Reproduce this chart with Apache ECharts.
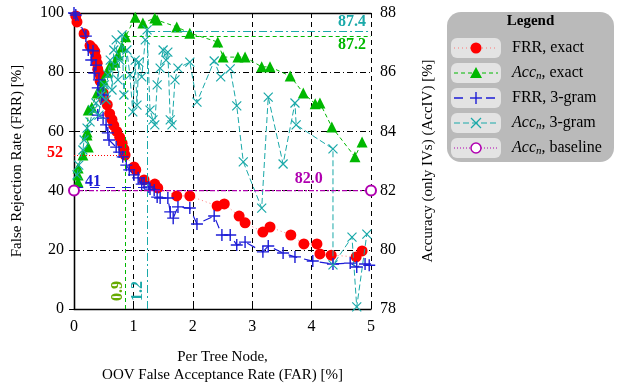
<!DOCTYPE html>
<html><head><meta charset="utf-8">
<script src="https://cdn.jsdelivr.net/npm/echarts@6/dist/echarts.min.js"></script>
<style>html,body{margin:0;padding:0;background:#fff}#c{width:619px;height:383px}</style>
</head><body><div id="c"></div><script>
// ---- data ----
const xTicks = [0, 1, 2, 3, 4, 5];
const leftTicks = [0, 20, 40, 60, 80, 100];
const rightTicks = [78, 80, 82, 84, 86, 88];

const frrExactX = [0.03,0.05,0.17,0.27,0.32,0.35,0.37,0.39,0.40,0.44,0.44,0.49,0.50,0.56,0.60,0.64,0.67,0.72,0.77,0.81,0.84,0.86,1.01,1.04,1.18,1.36,1.41,1.73,1.95,2.41,2.53,2.78,2.88,3.18,3.30,3.65,3.87,4.09,4.14,4.33,4.75,4.85];
const frrExactY = [99,97,93,89,88,87,85,83,81,79,77,73,71,69,66,64,62,60,58,56,54,52,48,47,43.6,42.2,40.9,38.2,38.2,34.8,35.5,31.4,29.1,26,27.7,25,22,22,18.6,18.2,17.6,19.6];

const accExactX = [0.07,0.07,0.07,0.15,0.24,0.22,0.22,0.24,0.30,0.39,0.47,0.49,0.56,0.61,0.69,0.74,0.81,0.87,1.03,1.16,1.36,1.40,1.73,1.95,2.42,2.51,2.76,2.88,3.16,3.30,3.64,3.86,4.06,4.14,4.34,4.73,4.85];
const accExactY = [82.29,82.53,82.76,83.2,83.47,83.88,83.98,84.72,84.82,85.3,85.5,85.74,86.0,86.24,86.34,86.58,86.85,87.2,87.86,87.66,87.83,87.76,87.53,87.32,87.02,86.51,86.51,86.51,86.18,86.18,85.87,85.3,84.93,84.96,84.15,83.14,83.64];

const frr3gX = [0.0,0.03,0.20,0.24,0.32,0.29,0.37,0.34,0.42,0.40,0.49,0.40,0.49,0.54,0.57,0.59,0.71,0.76,0.82,0.88,0.93,1.01,1.08,1.14,1.18,1.26,1.28,1.35,1.40,1.45,1.58,1.62,1.67,1.75,1.95,2.07,2.36,2.49,2.63,2.74,2.88,3.18,3.27,3.52,3.72,4.02,4.36,4.65,4.76,4.9,4.97];
const frr3gY = [100,99.3,92.2,87.5,87.2,84.1,82.4,79.7,77.4,74.7,72.3,65.5,64.5,62.2,59.5,57.1,54.7,53,51.4,48.6,47,45.3,44.3,42.2,42.6,41.2,40.5,40.2,37.8,37.5,37.5,32.8,30.7,34.5,34.1,28.7,31.4,25,25,21.6,22.6,19.3,21.3,18.9,17.6,16.2,15.2,15.5,14.2,15.2,14.8];

const acc3gX = [0.05,0.08,0.15,0.17,0.22,0.27,0.32,0.37,0.42,0.45,0.51,0.54,0.57,0.61,0.64,0.67,0.71,0.74,0.77,0.81,0.84,0.89,0.94,0.99,1.03,1.06,1.09,1.14,1.20,1.23,1.28,1.33,1.36,1.40,1.45,1.50,1.55,1.58,1.62,1.65,1.70,1.75,1.95,2.07,2.36,2.47,2.63,2.74,2.85,3.16,3.27,3.52,3.72,3.74,4.36,4.36,4.68,4.76,4.93];
const acc3gY = [82.53,82.86,83.37,83.71,84.11,84.32,84.72,84.96,84.55,85.23,85.57,85.06,85.91,86.41,85.40,86.75,87.09,85.74,86.41,87.26,85.23,86.75,85.91,84.66,86.41,84.89,86.34,85.84,87.09,87.43,84.72,84.39,84.22,85.57,86.14,86.75,86.41,86.68,84.39,84.22,85.74,86.14,86.34,84.99,86.38,85.84,86.11,84.86,82.97,81.41,85.16,82.90,84.96,84.22,83.41,79.49,80.43,78.07,80.53];

const baselineX = [0, 5];
const baselineY = [82.0, 82.0];

// threshold annotations
const frrExactAt = [0.87, 52];   // FAR, FRR
const frr3gAt = [1.23, 41];
const accExactBest = [0.87, 87.2];
const acc3gBest = [1.23, 87.4];
const baselineVal = 82.0;

// ---- styling ----
const FONT = 'Liberation Serif';
const RED = '#ff0000', GREEN = '#00b800', BLUE = '#1c1cd6', CYAN = '#1aa9a9', PURPLE = '#b000b0';
const zip = (a, b) => a.map((v, i) => [v, b[i]]);

const chart = echarts.init(document.getElementById('c'), null, {renderer: 'canvas'});

const gridCfg = {left: 74, right: 248, top: 13, bottom: 74, containLabel: false, outerBoundsMode: 'none'};

const option = {
  animation: false,
  backgroundColor: '#fff',
  textStyle: {fontFamily: FONT},
  grid: gridCfg,
  xAxis: [{
    type: 'value', min: 0, max: 5, interval: 1,
    name: 'Per Tree Node,\nOOV False Acceptance Rate (FAR) [%]',
    nameLocation: 'middle', nameGap: 39,
    nameTextStyle: {fontFamily: FONT, fontSize: 15, color: '#000', lineHeight: 18},
    axisLine: {show: true, lineStyle: {color: '#000', width: 1.3}},
    axisTick: {show: true, inside: true, length: 5, lineStyle: {color: '#000'}},
    axisLabel: {fontFamily: FONT, fontSize: 16, color: '#000', margin: 10},
    splitLine: {show: true, lineStyle: {color: '#000', type: [5, 4], width: 1}}
  }, {
    type: 'value', min: 0, max: 5, interval: 1, position: 'top',
    axisLine: {show: true, onZero: false, lineStyle: {color: '#000', width: 1.3}},
    axisTick: {show: false}, axisLabel: {show: false}, splitLine: {show: false}
  }],
  yAxis: [{
    type: 'value', min: 0, max: 100, interval: 20,
    name: 'False Rejection Rate (FRR) [%]', nameLocation: 'middle', nameGap: 49,
    nameTextStyle: {fontFamily: FONT, fontSize: 15, color: '#000'},
    axisLine: {show: true, lineStyle: {color: '#000', width: 1.3}},
    axisTick: {show: true, inside: true, length: 5, lineStyle: {color: '#000'}},
    axisLabel: {fontFamily: FONT, fontSize: 16, color: '#000', margin: 10},
    splitLine: {show: true, lineStyle: {color: '#000', type: [6, 3, 1, 3], width: 1}}
  }, {
    type: 'value', min: 78, max: 88, interval: 2, position: 'right',
    name: 'Accuracy (only IVs) (AccIV) [%]', nameLocation: 'middle', nameGap: 50,
    nameRotate: 90,
    nameTextStyle: {fontFamily: FONT, fontSize: 15, color: '#000'},
    axisLine: {show: true, lineStyle: {color: '#000', width: 1.3}},
    axisTick: {show: true, inside: true, length: 5, lineStyle: {color: '#000'}},
    axisLabel: {fontFamily: FONT, fontSize: 16, color: '#000', margin: 9},
    splitLine: {show: false}
  }],
  series: [
    {
      name: 'FRR, exact', type: 'line', xAxisIndex: 0, yAxisIndex: 0,
      data: zip(frrExactX, frrExactY),
      symbol: 'circle', symbolSize: 11,
      itemStyle: {color: RED},
      lineStyle: {color: '#ff7777', width: 1, type: [1, 3]},
      markLine: {
        silent: true, symbol: 'none', label: {show: false},
        lineStyle: {color: RED, type: [1, 2], width: 1},
        data: [[{coord: [0, frrExactAt[1]]}, {coord: frrExactAt}]]
      },
      z: 3
    },
    {
      name: 'Acc exact', type: 'line', xAxisIndex: 0, yAxisIndex: 1,
      data: zip(accExactX, accExactY),
      symbol: 'triangle', symbolSize: 11,
      itemStyle: {color: GREEN},
      lineStyle: {color: GREEN, width: 1, type: [4, 3]},
      markLine: {
        silent: true, symbol: 'none', label: {show: false},
        lineStyle: {color: GREEN, type: [4, 3], width: 1},
        data: [
          [{coord: [accExactBest[0], 78]}, {coord: accExactBest}],
          [{coord: accExactBest}, {coord: [5, accExactBest[1]]}]
        ]
      },
      z: 3
    },
    {
      name: 'FRR, 3-gram', type: 'line', xAxisIndex: 0, yAxisIndex: 0,
      data: zip(frr3gX, frr3gY),
      symbol: 'path://M0,5L10,5M5,0L5,10', symbolSize: 12,
      itemStyle: {color: BLUE, borderColor: BLUE, borderWidth: 1.4},
      lineStyle: {color: BLUE, width: 1.2, type: [9, 7]},
      markLine: {
        silent: true, symbol: 'none', label: {show: false},
        lineStyle: {color: BLUE, type: [9, 7], width: 1.2},
        data: [[{coord: [0, frr3gAt[1]]}, {coord: frr3gAt}]]
      },
      z: 4
    },
    {
      name: 'Acc 3-gram', type: 'line', xAxisIndex: 0, yAxisIndex: 1,
      data: zip(acc3gX, acc3gY),
      symbol: 'path://M0,0L10,10M0,10L10,0', symbolSize: 9,
      itemStyle: {color: CYAN, borderColor: CYAN, borderWidth: 1.2},
      lineStyle: {color: CYAN, width: 1, type: [6, 3]},
      markLine: {
        silent: true, symbol: 'none', label: {show: false},
        lineStyle: {color: CYAN, type: [8, 3, 2, 3], width: 1},
        data: [
          [{coord: [acc3gBest[0], 78]}, {coord: acc3gBest}],
          [{coord: acc3gBest}, {coord: [5, acc3gBest[1]]}]
        ]
      },
      z: 4
    },
    {
      name: 'Acc baseline', type: 'line', xAxisIndex: 0, yAxisIndex: 1,
      data: zip(baselineX, baselineY),
      symbol: 'emptyCircle', symbolSize: 10,
      itemStyle: {color: PURPLE, borderWidth: 1.5},
      lineStyle: {color: PURPLE, width: 1.3, type: [2, 2, 5, 2]},
      z: 5
    }
  ]
};
chart.setOption(option);

// ---- annotations positioned via the axes ----
const pL = v => chart.convertToPixel({xAxisIndex: 0, yAxisIndex: 0}, v);
const pR = v => chart.convertToPixel({xAxisIndex: 0, yAxisIndex: 1}, v);
const bold = (color) => ({fontFamily: FONT, fontSize: 16, fontWeight: 'bold', fill: color});

const a52 = pL([0, frrExactAt[1]]);
const a41 = pL([0, frr3gAt[1]]);
const a82 = pR([3.95, baselineVal]);
const a874 = pR([5, acc3gBest[1]]);
const a872 = pR([5, accExactBest[1]]);
const v09 = pL([accExactBest[0], 0]);
const v12 = pL([acc3gBest[0], 0]);

const graphics = [
  {type: 'text', x: a52[0] - 11, y: a52[1] - 2, style: Object.assign(bold(RED), {text: String(frrExactAt[1]), align: 'right', verticalAlign: 'middle'})},
  {type: 'text', x: a41[0] + 11, y: a41[1] - 6, style: Object.assign(bold(BLUE), {text: String(frr3gAt[1]), align: 'left', verticalAlign: 'middle'})},
  {type: 'text', x: a82[0], y: a82[1] - 12, style: Object.assign(bold(PURPLE), {text: baselineVal.toFixed(1), align: 'center', verticalAlign: 'middle'})},
  {type: 'text', x: a874[0] - 5, y: a874[1] - 9, style: Object.assign(bold(CYAN), {text: acc3gBest[1].toFixed(1), align: 'right', verticalAlign: 'middle'})},
  {type: 'text', x: a872[0] - 5, y: a872[1] + 8, style: Object.assign(bold(GREEN), {text: accExactBest[1].toFixed(1), align: 'right', verticalAlign: 'middle'})},
  {type: 'text', x: v09[0] - 8, y: v09[1] - 18, rotation: Math.PI / 2, style: Object.assign(bold('#66aa00'), {text: accExactBest[0].toFixed(1), align: 'center', verticalAlign: 'middle'})},
  {type: 'text', x: v12[0] - 9, y: v12[1] - 18, rotation: Math.PI / 2, style: Object.assign(bold(CYAN), {text: acc3gBest[0].toFixed(1), align: 'center', verticalAlign: 'middle'})}
];

// ---- legend box ----
const LX = 447, LY = 12, LW = 167, LH = 150;
graphics.push({type: 'rect', shape: {x: LX, y: LY, width: LW, height: LH, r: 14}, style: {fill: '#bababa'}, z: 10});
graphics.push({type: 'text', x: LX + LW / 2, y: 21, z: 11, style: {text: 'Legend', fontFamily: FONT, fontSize: 15, fontWeight: 'bold', fill: '#000', align: 'center', verticalAlign: 'middle'}});
const rows = [48, 73, 98, 123, 148];
const sx0 = 451, sx1 = 501, smid = 476;
const rich = {
  i: {fontFamily: FONT, fontSize: 16, fontStyle: 'italic', fill: '#000'},
  s: {fontFamily: FONT, fontSize: 11, fontStyle: 'italic', fill: '#000', padding: [7, 0, 0, 0]},
  t: {fontFamily: FONT, fontSize: 16, fill: '#000'}
};
const legendItems = [
  {text: 'FRR, exact', color: '#ff7777', dash: [1, 3], sym: 'circle', symColor: RED},
  {text: '{i|Acc}{s|n}{t|, exact}', color: GREEN, dash: [4, 3], sym: 'triangle', symColor: GREEN},
  {text: 'FRR, 3-gram', color: BLUE, dash: [9, 7], sym: 'plus', symColor: BLUE},
  {text: '{i|Acc}{s|n}{t|, 3-gram}', color: CYAN, dash: [6, 3], sym: 'cross', symColor: CYAN},
  {text: '{i|Acc}{s|n}{t|, baseline}', color: PURPLE, dash: [1, 2], sym: 'empty', symColor: PURPLE}
];
legendItems.forEach((it, k) => {
  const y = rows[k];
  graphics.push({type: 'rect', z: 11, shape: {x: sx0, y: y - 10, width: sx1 - sx0, height: 20, r: 6}, style: {fill: '#e3e3e3'}});
  graphics.push({type: 'line', z: 12, shape: {x1: sx0 + 3, y1: y, x2: sx1 - 3, y2: y}, style: {stroke: it.color, lineWidth: it.sym === 'plus' ? 1.4 : 1, lineDash: it.dash}});
  if (it.sym === 'circle') graphics.push({type: 'circle', z: 13, shape: {cx: smid, cy: y, r: 5.5}, style: {fill: RED}});
  if (it.sym === 'triangle') graphics.push({type: 'polygon', z: 13, shape: {points: [[smid, y - 6], [smid - 6, y + 5], [smid + 6, y + 5]]}, style: {fill: GREEN}});
  if (it.sym === 'plus') {
    graphics.push({type: 'rect', z: 12, shape: {x: smid - 8, y: y - 2, width: 16, height: 4}, style: {fill: '#e3e3e3'}});
    graphics.push({type: 'line', z: 13, shape: {x1: smid - 6, y1: y, x2: smid + 6, y2: y}, style: {stroke: BLUE, lineWidth: 1.4}});
    graphics.push({type: 'line', z: 13, shape: {x1: smid, y1: y - 6, x2: smid, y2: y + 6}, style: {stroke: BLUE, lineWidth: 1.4}});
  }
  if (it.sym === 'cross') {
    graphics.push({type: 'line', z: 13, shape: {x1: smid - 5, y1: y - 5, x2: smid + 5, y2: y + 5}, style: {stroke: CYAN, lineWidth: 1.3}});
    graphics.push({type: 'line', z: 13, shape: {x1: smid - 5, y1: y + 5, x2: smid + 5, y2: y - 5}, style: {stroke: CYAN, lineWidth: 1.3}});
  }
  if (it.sym === 'empty') graphics.push({type: 'circle', z: 13, shape: {cx: smid, cy: y, r: 5}, style: {fill: '#fff', stroke: PURPLE, lineWidth: 1.5}});
  graphics.push({type: 'text', z: 12, x: 512, y: y, style: {text: it.text, rich: rich, fontFamily: FONT, fontSize: 16, fill: '#000', align: 'left', verticalAlign: 'middle'}});
});

chart.setOption({graphic: graphics});
</script></body></html>
